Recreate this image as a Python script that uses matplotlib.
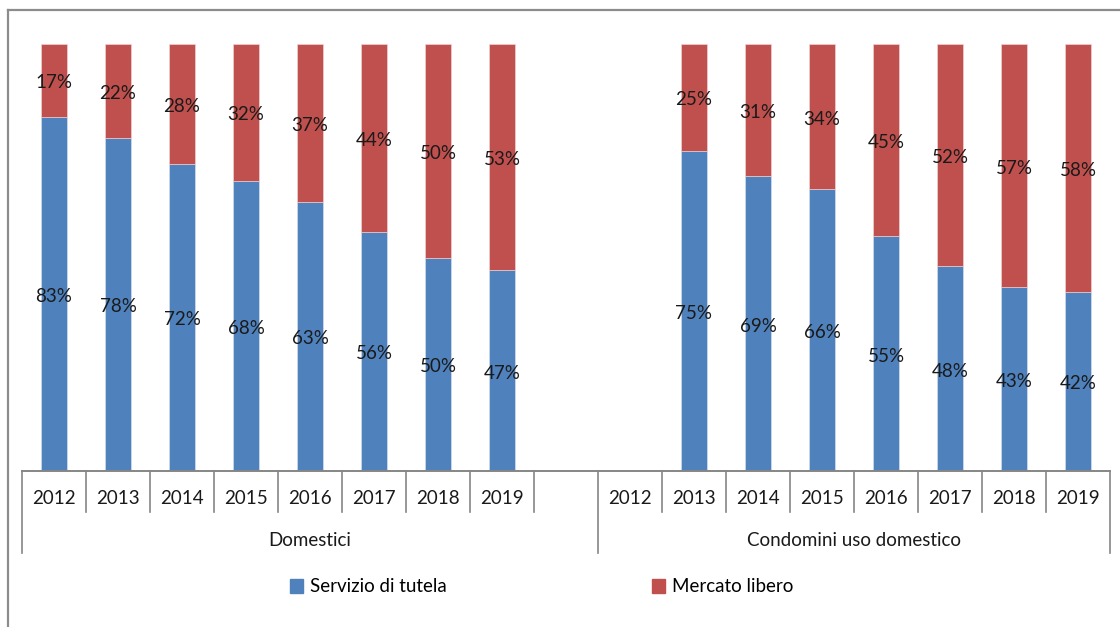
import numpy as np
import matplotlib
matplotlib.use("Agg")
import matplotlib.pyplot as plt
from matplotlib.lines import Line2D
from matplotlib.patches import Patch
from matplotlib.transforms import offset_copy

plt.rcParams['font.family'] = ['Lato', 'DejaVu Sans']

# ---- data ----
years = ["2012", "2013", "2014", "2015", "2016", "2017", "2018", "2019"]
groups = ["Domestici", "Condomini uso domestico"]
series_names = ["Servizio di tutela", "Mercato libero"]
dom_tutela = [83, 78, 72, 68, 63, 56, 50, 47]
dom_libero = [17, 22, 28, 32, 37, 44, 50, 53]
con_tutela = [np.nan, 75, 69, 66, 55, 48, 43, 42]
con_libero = [np.nan, 25, 31, 34, 45, 52, 57, 58]

colors = ["#4F81BD", "#C0504D"]
axis_col = "#868686"

W, H = 1120, 627
fig = plt.figure(figsize=(W / 100, H / 100), dpi=100)

# axes placement in pixels
ax_l, ax_r, ax_t, ax_b = 22, 1110, 44, 471
ax = fig.add_axes([ax_l / W, 1 - ax_b / H, (ax_r - ax_l) / W, (ax_b - ax_t) / H])

# slot layout: Domestici 0..7, empty slot 8, Condomini 9..16
dom_pos = np.arange(len(years))
con_pos = np.arange(len(years)) + len(years) + 1
nslots = len(years) * 2 + 1

tutela = np.array(dom_tutela + con_tutela, dtype=float)
libero = np.array(dom_libero + con_libero, dtype=float)
pos = np.concatenate([dom_pos, con_pos]) + 0.5

bw = 0.41
ax.bar(pos, tutela, width=bw, color=colors[0], edgecolor="#DCE6F2", linewidth=0.4)
ax.bar(pos, libero, width=bw, bottom=tutela, color=colors[1], edgecolor="#F2DCDB", linewidth=0.4)

fs = 13.5
lab_tr = offset_copy(ax.transData, fig=fig, x=0, y=-2.5, units="dots")
for x, t, l in zip(pos, tutela, libero):
    if np.isnan(t):
        continue
    ax.text(x, t / 2, f"{t:.0f}%", transform=lab_tr, ha="center", va="center", fontsize=fs, color="#1a1a1a")
    ax.text(x, t + l / 2, f"{l:.0f}%", transform=lab_tr, ha="center", va="center", fontsize=fs, color="#1a1a1a")

ax.set_xlim(0, nslots)
ax.set_ylim(0, 100)
for s in ax.spines.values():
    s.set_visible(False)
ax.set_xticks([])
ax.set_yticks([])

tr = ax.get_xaxis_transform()
ph = ax_b - ax_t


def yfrac(py):
    return (ax_b - py) / ph


# axis line
ax.add_line(Line2D([0, nslots], [0, 0], transform=tr, color=axis_col, lw=1.4, clip_on=False))

# separators
group_bounds = [0, len(years) + 1, nslots]
for b in range(nslots + 1):
    end = 553 if b in group_bounds else 512
    ax.add_line(Line2D([b, b], [0, yfrac(end)], transform=tr, color=axis_col, lw=1.2, clip_on=False))

# year labels
for p, y in zip(dom_pos, years):
    ax.text(p + 0.5, yfrac(498), y, transform=tr, ha="center", va="center", fontsize=fs, color="#1a1a1a")
for p, y in zip(con_pos, years):
    ax.text(p + 0.5, yfrac(498), y, transform=tr, ha="center", va="center", fontsize=fs, color="#1a1a1a")

# group labels
ax.text(group_bounds[0] / 2 + group_bounds[1] / 2, yfrac(540), groups[0], transform=tr,
        ha="center", va="center", fontsize=fs, color="#1a1a1a")
ax.text(group_bounds[1] / 2 + group_bounds[2] / 2, yfrac(540), groups[1], transform=tr,
        ha="center", va="center", fontsize=fs, color="#1a1a1a")

# legend (two separate entries)
for name, col, px in zip(series_names, colors, [290, 652]):
    fig.legend(handles=[Patch(facecolor=col, edgecolor=col)], labels=[name],
               loc="center left", bbox_to_anchor=(px / W, 1 - 587 / H),
               frameon=False, fontsize=fs, handlelength=0.7, handleheight=0.7,
               handletextpad=0.35, borderpad=0, borderaxespad=0)

# chart-area border (top and left)
fig.add_artist(Line2D([8 / W, 8 / W], [0, 1 - 10 / H], transform=fig.transFigure, color="#8c8c8c", lw=1.6))
fig.add_artist(Line2D([8 / W, 1], [1 - 10 / H, 1 - 10 / H], transform=fig.transFigure, color="#8c8c8c", lw=1.6))

fig.savefig("out.png", dpi=100, facecolor="white")
